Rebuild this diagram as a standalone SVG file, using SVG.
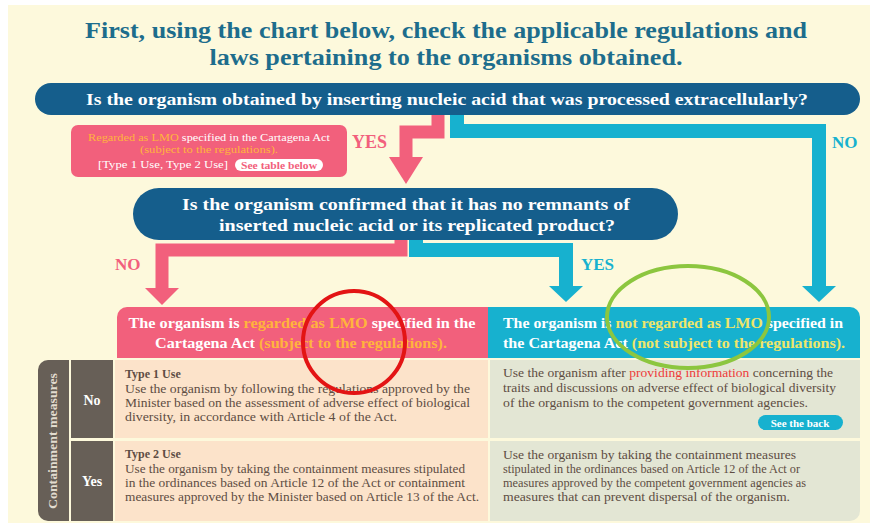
<svg xmlns="http://www.w3.org/2000/svg" width="876" height="525" viewBox="0 0 876 525" font-family="'Liberation Serif', serif">
<defs>
<style>
text{font-family:'Liberation Serif',serif;}
.b{font-weight:bold;}
.title{fill:#1d6d8c;font-size:23px;}
.q{fill:#ffffff;font-size:17px;}
.hdr{fill:#ffffff;font-size:14.5px;}
.body{fill:#5e4d43;font-size:12px;}
.org{fill:#ffb43c;}
.yel{fill:#eee56a;}
.red{fill:#ee3b3b;}
.pinkS{stroke:#f2607c;fill:none;stroke-width:13;stroke-linejoin:miter;}
.cyanS{stroke:#17b1cf;fill:none;stroke-width:14;stroke-linejoin:miter;}
</style>
</defs>
<rect x="0" y="0" width="876" height="525" fill="#ffffff"/>
<rect x="8" y="5" width="862" height="518" fill="#fdf9dc"/>

<g id="title">
<text class="b title" x="446" y="38" text-anchor="middle" textLength="722" lengthAdjust="spacingAndGlyphs">First, using the chart below, check the applicable regulations and</text>
<text class="b title" x="446" y="65" text-anchor="middle" textLength="473" lengthAdjust="spacingAndGlyphs">laws pertaining to the organisms obtained.</text>
</g>

<g id="connectors">
<path class="pinkS" d="M438 114 V132 H406 V158"/>
<polygon points="389,157 423,157 406,184" fill="#f2607c"/>
<path class="cyanS" d="M457 114 V131 H819 V287"/>
<polygon points="802,286 836,286 819,302" fill="#17b1cf"/>
<path class="pinkS" d="M401 238 V250 H162 V289"/>
<polygon points="145,288 179,288 162,305" fill="#f2607c"/>
<path class="cyanS" d="M416 238 V250 H566 V287"/>
<polygon points="549,286 583,286 566,302" fill="#17b1cf"/>
<text class="b" x="352" y="148" font-size="18" fill="#f2607c">YES</text>
<text class="b" x="832" y="148" font-size="17" fill="#17b1cf">NO</text>
<text class="b" x="115" y="270" font-size="17" fill="#f2607c">NO</text>
<text class="b" x="581" y="270" font-size="17" fill="#17b1cf">YES</text>
</g>

<g id="q1">
<rect x="35" y="83" width="825" height="32" rx="16" fill="#155e8c"/>
<text class="b q" x="447" y="105" text-anchor="middle" textLength="722" lengthAdjust="spacingAndGlyphs">Is the organism obtained by inserting nucleic acid that was processed extracellularly?</text>
</g>

<g id="lmo-note">
<rect x="71" y="125" width="276" height="52" rx="7" fill="#f2607c"/>
<text x="209" y="141" font-size="11" fill="#ffffff" text-anchor="middle" textLength="242" lengthAdjust="spacingAndGlyphs"><tspan class="org">Regarded as LMO</tspan> specified in the Cartagena Act</text>
<text class="org" x="209" y="153" font-size="11" text-anchor="middle" textLength="138" lengthAdjust="spacingAndGlyphs">(subject to the regulations).</text>
<text x="98" y="168" font-size="11" fill="#ffffff" textLength="130" lengthAdjust="spacingAndGlyphs">[Type 1 Use, Type 2 Use]</text>
<rect x="235" y="159" width="88" height="12" rx="6" fill="#ffffff"/>
<text class="b" x="279" y="168.5" font-size="10" fill="#f2607c" text-anchor="middle" textLength="76" lengthAdjust="spacingAndGlyphs">See table below</text>
</g>

<g id="q2">
<rect x="133" y="188" width="545" height="52" rx="26" fill="#155e8c"/>
<text class="b q" x="406" y="210" text-anchor="middle" textLength="448" lengthAdjust="spacingAndGlyphs">Is the organism confirmed that it has no remnants of</text>
<text class="b q" x="417" y="231" text-anchor="middle" textLength="396" lengthAdjust="spacingAndGlyphs">inserted nucleic acid or its replicated product?</text>
</g>

<g id="table-side">
<path d="M48 360 H69 V521 H48 A10 10 0 0 1 38 511 V370 A10 10 0 0 1 48 360 Z" fill="#675f57"/>
<text class="b" transform="translate(57 441) rotate(-90)" font-size="12" fill="#e2dbcf" text-anchor="middle" textLength="136" lengthAdjust="spacingAndGlyphs">Containment measures</text>
<rect x="71" y="360" width="42" height="78" fill="#675f57"/>
<rect x="71" y="441" width="42" height="80" fill="#675f57"/>
<text class="b" x="92" y="405" font-size="14" fill="#ffffff" text-anchor="middle">No</text>
<text class="b" x="92" y="486" font-size="14" fill="#ffffff" text-anchor="middle">Yes</text>
</g>

<g id="lmo-column">
<path d="M127 307 H488 V358 H117 V317 A10 10 0 0 1 127 307 Z" fill="#f2607c"/>
<text class="b hdr" x="302" y="328" text-anchor="middle" textLength="347" lengthAdjust="spacingAndGlyphs">The organism is <tspan class="org">regarded as  LMO</tspan> specified in the</text>
<text class="b hdr" x="301" y="348" text-anchor="middle" textLength="292" lengthAdjust="spacingAndGlyphs">Cartagena Act <tspan class="org">(subject to the regulations).</tspan></text>
<rect x="115" y="360" width="373" height="78" fill="#fce3ca"/>
<rect x="115" y="441" width="373" height="80" fill="#fce3ca"/>
<text class="b body" x="125" y="378" font-size="13">Type 1 Use</text>
<text class="body" x="125" y="393" textLength="345" lengthAdjust="spacingAndGlyphs">Use the organism by following the regulations approved by the</text>
<text class="body" x="125" y="407" textLength="345" lengthAdjust="spacingAndGlyphs">Minister based on the assessment of adverse effect of biological</text>
<text class="body" x="125" y="421" textLength="272" lengthAdjust="spacingAndGlyphs">diversity, in accordance with Article 4 of the Act.</text>
<text class="b body" x="125" y="458" font-size="13">Type 2 Use</text>
<text class="body" x="125" y="473" textLength="340" lengthAdjust="spacingAndGlyphs">Use the organism by taking the containment measures stipulated</text>
<text class="body" x="125" y="487" textLength="340" lengthAdjust="spacingAndGlyphs">in the ordinances based on Article 12 of the Act or containment</text>
<text class="body" x="125" y="501" textLength="354" lengthAdjust="spacingAndGlyphs">measures approved by the Minister based on Article 13 of the Act.</text>
</g>

<g id="non-lmo-column">
<path d="M488 307 H850 A10 10 0 0 1 860 317 V358 H488 Z" fill="#17b1cf"/>
<text class="b hdr" x="503" y="328" textLength="340" lengthAdjust="spacingAndGlyphs">The organism is <tspan class="yel">not regarded as LMO</tspan> specified in</text>
<text class="b hdr" x="503" y="348" textLength="342" lengthAdjust="spacingAndGlyphs">the Cartagena Act <tspan class="yel">(not subject to the regulations).</tspan></text>
<rect x="490" y="360" width="370" height="78" fill="#e3e6d4"/>
<path d="M490 441 H860 V511 A10 10 0 0 1 850 521 H490 Z" fill="#e3e6d4"/>
<text class="body" x="503" y="377" textLength="330" lengthAdjust="spacingAndGlyphs">Use the organism after <tspan class="red">providing information</tspan> concerning the</text>
<text class="body" x="503" y="392" textLength="333" lengthAdjust="spacingAndGlyphs">traits and discussions on adverse effect of biological diversity</text>
<text class="body" x="503" y="407" textLength="305" lengthAdjust="spacingAndGlyphs">of the organism to the competent government agencies.</text>
<rect x="758" y="415" width="85" height="15" rx="7.5" fill="#17b1cf"/>
<text class="b" x="800" y="426.5" font-size="11" fill="#ffffff" text-anchor="middle">See the back</text>
<text class="body" x="503" y="459" textLength="293" lengthAdjust="spacingAndGlyphs">Use the organism by taking the containment measures</text>
<text class="body" x="503" y="473" textLength="297" lengthAdjust="spacingAndGlyphs">stipulated in the ordinances based on Article 12 of the Act or</text>
<text class="body" x="503" y="487" textLength="303" lengthAdjust="spacingAndGlyphs">measures approved by the competent government agencies as</text>
<text class="body" x="503" y="501" textLength="287" lengthAdjust="spacingAndGlyphs">measures that can prevent dispersal of the organism.</text>
</g>

<g id="highlights">
<circle cx="354" cy="342" r="51" fill="none" stroke="#e31414" stroke-width="4"/>
<ellipse cx="688" cy="317" rx="81" ry="51" fill="none" stroke="#8cc63f" stroke-width="4"/>
</g>
</svg>
